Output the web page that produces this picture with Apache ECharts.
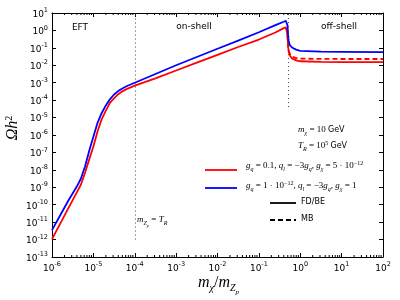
<!DOCTYPE html>
<html><head><meta charset="utf-8">
<script src="https://cdn.jsdelivr.net/npm/echarts@6/dist/echarts.min.js"></script>
<style>html,body{margin:0;padding:0;background:#fff}#c{width:400px;height:300px}</style>
</head><body><div id="c"></div>
<script>
// x values: m_chi / m_Zp
const massRatio = [1e-6,1.58e-6,2.51e-6,3.98e-6,5.01e-6,6.31e-6,7.94e-6,1e-5,1.26e-5,1.58e-5,2.0e-5,2.51e-5,3.16e-5,3.98e-5,5.01e-5,6.31e-5,7.94e-5,1e-4,3.16e-4,1e-3,3.16e-3,1e-2,3.16e-2,0.1,0.251,0.398,0.447,0.468,0.49,0.501,0.513,0.525,0.562,0.631,0.794,1,3.16,10,100];
// Omega h^2, red (g_q = 0.1), FD/BE
const omegaRed = [1.07e-12,8.3e-12,6.6e-11,5.1e-10,1.45e-9,7.1e-9,4.0e-8,2.2e-7,1.6e-6,7.9e-6,2.5e-5,6.9e-5,1.26e-4,2.2e-4,3.2e-4,4.3e-4,5.4e-4,6.8e-4,1.78e-3,5.0e-3,1.41e-2,4.0e-2,0.112,0.3,0.76,1.35,1.51,1.4,0.6,0.25,0.11,0.063,0.035,0.025,0.019,0.017,0.0155,0.0151,0.0151];
// Omega h^2, blue (g_q = 1e-12), FD/BE
const omegaBlue = [3.5e-12,2.5e-11,1.8e-10,1.1e-9,3.2e-9,1.6e-8,1.26e-7,7.9e-7,5.0e-6,1.78e-5,5.0e-5,1.12e-4,2.1e-4,3.3e-4,4.7e-4,6.3e-4,7.9e-4,1.0e-3,3.16e-3,1.0e-2,3.0e-2,8.9e-2,0.26,0.79,2.0,3.16,3.6,4.0,2.0,1.0,0.45,0.25,0.141,0.105,0.079,0.068,0.060,0.059,0.0575];
// red MB (dashed) in off-shell region
const offShellX = [0.49,0.501,0.513,0.525,0.562,0.631,0.794,1,3.16,10,100];
const omegaRedMB = [0.6,0.25,0.11,0.07,0.045,0.032,0.026,0.024,0.0232,0.023,0.023];
// minor tick positions on x axis
const minorX = [];
[1e-6,1e-5,1e-4,1e-3,1e-2,1e-1,1,10].forEach(d => { for (let k = 2; k <= 9; k++) minorX.push(+(d*k).toPrecision(3)); });
const boundaries = [1e-4, 0.5];
const regionLabels = ['EFT', 'on-shell', 'off-shell'];

const pair = (xs, ys) => xs.map((x, i) => [x, ys[i]]);
const SERIF = 'Liberation Serif';
const SANS = 'DejaVu Sans';

function tickFmt(v) {
  const e = Math.round(Math.log10(v));
  return '{b|10}{p|' + e + '}';
}
const tickRich = {
  b: {fontFamily: SANS, fontSize: 9, color: '#000', lineHeight: 12, verticalAlign: 'bottom'},
  p: {fontFamily: SANS, fontSize: 6.5, color: '#000', verticalAlign: 'top', lineHeight: 12}
};
const mRich = {
  i: {fontFamily: SERIF, fontStyle: 'italic', fontSize: 9, color: '#000', lineHeight: 12, verticalAlign: 'middle'},
  n: {fontFamily: SERIF, fontSize: 9, color: '#000', lineHeight: 12, verticalAlign: 'middle'},
  s: {fontFamily: SERIF, fontStyle: 'italic', fontSize: 6, color: '#000', lineHeight: 12, verticalAlign: 'bottom'},
  ss: {fontFamily: SERIF, fontStyle: 'italic', fontSize: 4.5, color: '#000', lineHeight: 12, verticalAlign: 'bottom', padding: [0,0,-2,0]},
  p: {fontFamily: SERIF, fontSize: 6, color: '#000', lineHeight: 12, verticalAlign: 'top'},
  t: {fontFamily: SANS, fontSize: 8, color: '#000', lineHeight: 12, verticalAlign: 'middle'}
};
const bigRich = {
  i: {fontFamily: SERIF, fontStyle: 'italic', fontSize: 16, color: '#000', lineHeight: 18, verticalAlign: 'middle'},
  n: {fontFamily: SERIF, fontSize: 16, color: '#000', lineHeight: 18, verticalAlign: 'middle'},
  s: {fontFamily: SERIF, fontStyle: 'italic', fontSize: 10, color: '#000', lineHeight: 18, verticalAlign: 'bottom', padding:[0,0,-1,0]},
  ss: {fontFamily: SERIF, fontStyle: 'italic', fontSize: 7, color: '#000', lineHeight: 18, verticalAlign: 'bottom', padding:[0,0,-4,0]},
  p: {fontFamily: SERIF, fontSize: 10, color: '#000', lineHeight: 18, verticalAlign: 'top'}
};
function txt(x, y, text, rich, extra) {
  return Object.assign({type: 'text', x: x, y: y, silent: true,
    style: Object.assign({text: text, rich: rich, verticalAlign: 'middle', align: 'left'}, extra || {})});
}
function seg(x1, y1, x2, y2, color, dash) {
  return {type: 'line', silent: true, shape: {x1, y1, x2, y2},
    style: {stroke: color, lineWidth: 1.8, lineDash: dash || null}};
}

const chart = echarts.init(document.getElementById('c'), null, {renderer: 'canvas'});
const axisCommon = {
  type: 'log', logBase: 10, interval: 1,
  axisLine: {show: true, lineStyle: {color: '#000', width: 1}},
  axisTick: {show: true, inside: true, length: 4, lineStyle: {color: '#000'}},
  splitLine: {show: false}
};
chart.setOption({
  animation: false,
  backgroundColor: '#fff',
  grid: {left: 52, right: 17, top: 13, bottom: 43, containLabel: false},
  xAxis: [
    Object.assign({}, axisCommon, {min: 1e-6, max: 100, position: 'bottom',
      axisLabel: {formatter: tickFmt, rich: tickRich, margin: 4, showMinLabel: true, showMaxLabel: true}}),
    Object.assign({}, axisCommon, {min: 1e-6, max: 100, position: 'top', axisLabel: {show: false}})
  ],
  yAxis: [
    Object.assign({}, axisCommon, {min: 1e-13, max: 10, position: 'left',
      axisLabel: {formatter: tickFmt, rich: tickRich, margin: 4, showMinLabel: true, showMaxLabel: true}}),
    Object.assign({}, axisCommon, {min: 1e-13, max: 10, position: 'right', axisLabel: {show: false}})
  ],
  series: [
    {type: 'line', data: pair(massRatio, omegaRed), showSymbol: false, symbol: 'none',
     smooth: false, lineStyle: {color: '#ff0000', width: 1.8}, z: 3,
     markLine: {silent: true, symbol: 'none', label: {show: false},
       lineStyle: {color: '#444', type: [1, 3], width: 1},
       data: [
         [{coord: [boundaries[0], 1e-12]}, {coord: [boundaries[0], 10]}],
         [{coord: [boundaries[1], 4e-5]}, {coord: [boundaries[1], 10]}]
       ]}},
    {type: 'line', data: pair(offShellX, omegaRedMB), showSymbol: false, symbol: 'none',
     smooth: false, lineStyle: {color: '#ff0000', width: 1.8, type: [5, 3]}, z: 3},
    {type: 'line', data: pair(massRatio, omegaBlue), showSymbol: false, symbol: 'none',
     smooth: false, lineStyle: {color: '#0000ff', width: 1.8}, z: 4},
    {type: 'custom', data: minorX.map(x => [x, 1]), silent: true, clip: false, z: 5,
     renderItem: function (params, api) {
       const x = api.value(0);
       const b = api.coord([x, 1e-13]);
       const t = api.coord([x, 10]);
       return {type: 'group', children: [
         {type: 'line', shape: {x1: b[0], y1: b[1], x2: b[0], y2: b[1] - 2}, style: {stroke: '#000', lineWidth: 1}},
         {type: 'line', shape: {x1: t[0], y1: t[1], x2: t[0], y2: t[1] + 2}, style: {stroke: '#000', lineWidth: 1}}
       ]};
     }}
  ],
  graphic: [
    txt(80, 28, '{t|' + regionLabels[0] + '}', {t: {fontFamily: SANS, fontSize: 9, color: '#000'}}, {align: 'center'}),
    txt(194, 27, '{t|' + regionLabels[1] + '}', {t: {fontFamily: SANS, fontSize: 9, color: '#000'}}, {align: 'center'}),
    txt(339, 27, '{t|' + regionLabels[2] + '}', {t: {fontFamily: SANS, fontSize: 9, color: '#000'}}, {align: 'center'}),
    txt(298, 130, '{i|m}{s|χ}{n| = 10 }{t|GeV}', mRich),
    txt(298, 146, '{i|T}{s|R}{n| = 10}{p|5}{n| }{t|GeV}', mRich),
    seg(205, 170, 237, 170, '#ff0000'),
    txt(246, 166, '{i|g}{s|q}{n| = 0.1, }{i|q}{s|l}{n| = −3}{i|g}{s|q}{n|, }{i|g}{s|χ}{n| = 5 · 10}{p|−12}', mRich),
    seg(205, 188, 237, 188, '#0000ff'),
    txt(246, 186, '{i|g}{s|q}{n| = 1 · 10}{p|−12}{n|, }{i|q}{s|l}{n| = −3}{i|g}{s|q}{n|, }{i|g}{s|χ}{n| = 1}', mRich),
    seg(270, 203, 296, 203, '#000'),
    txt(301, 202, '{t|FD/BE}', mRich),
    seg(270, 220, 296, 220, '#000', [5, 3]),
    txt(301, 219, '{t|MB}', mRich),
    txt(137, 220, '{i|m}{s|Z}{ss|p}{n| = }{i|T}{s|R}', mRich),
    txt(198, 283, '{i|m}{s|χ}{n|/}{i|m}{s|Z}{ss|p}', bigRich),
    Object.assign(txt(13, 128, '{i|Ωh}{p|2}', bigRich, {align: 'center'}), {rotation: Math.PI / 2})
  ]
});
</script></body></html>
